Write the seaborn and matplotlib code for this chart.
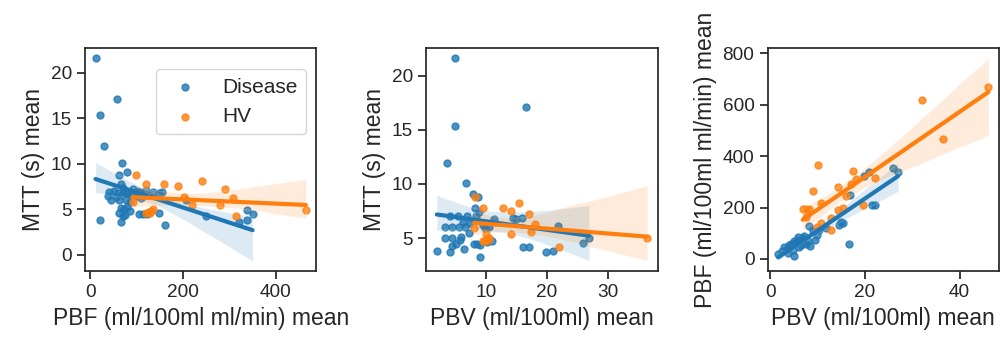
#!/usr/bin/env python3
# coding=utf-8
import matplotlib
matplotlib.use('Agg')
import matplotlib.pyplot as plt
import numpy as np
import pandas as pd
import seaborn as sns

# panel 1: PBF vs MTT
pbf_mtt_disease_x = [11, 21, 58, 30, 69, 61, 80, 20, 65, 162, 250, 320, 337, 337, 350, 207,
                     41, 45, 39, 65, 70, 60, 68, 75, 80, 62, 77, 65, 72, 80, 62, 75, 70,
                     100, 108, 120, 135, 148, 155, 104, 113, 123, 147, 100, 110, 88, 85,
                     92, 55, 50, 85, 95]
pbf_mtt_disease_y = [21.6, 15.3, 17.1, 11.9, 10.1, 8.8, 9.1, 3.8, 3.6, 3.3, 4.2, 3.6, 3.8, 4.9, 4.5, 6.0,
                     6.9, 6.0, 6.4, 7.8, 7.3, 6.8, 6.6, 6.9, 6.7, 6.0, 6.0, 5.1, 5.0, 5.2, 4.6, 4.4, 4.2,
                     7.0, 6.9, 7.1, 6.9, 6.8, 6.9, 4.5, 4.5, 4.5, 4.6, 6.4, 6.2, 6.5, 5.8,
                     7.2, 6.3, 7.0, 4.8, 6.8]
pbf_mtt_hv_x = [99, 119, 158, 188, 240, 290, 307, 201, 219, 279, 315, 465, 91, 121, 126, 130, 134, 128]
pbf_mtt_hv_y = [8.8, 7.8, 7.8, 7.5, 8.1, 7.2, 6.2, 6.3, 5.4, 5.4, 4.2, 4.9, 5.8, 4.6, 4.7, 4.8, 5.0, 4.6]

# panel 2: PBV vs MTT
pbv_mtt_disease_x = [5.0, 5.0, 16.6, 3.6, 6.8, 7.9, 8.7, 2.0, 4.2, 9.1, 16.1, 17.0, 19.9, 21.0, 25.9, 26.9, 21.8,
                     4.2, 5.5, 7.0, 8.4, 3.3, 4.5, 5.6, 6.6, 3.3, 4.5, 6.0, 4.5, 5.2, 5.8, 8.0, 8.5, 9.0,
                     8.3, 8.9, 14.4, 15.0, 15.9, 6.2, 7.5, 9.5, 10.5, 11.3, 10.2, 11.0, 9.8, 7.2, 6.5]
pbv_mtt_disease_y = [21.6, 15.3, 17.1, 11.9, 10.1, 9.1, 8.8, 3.8, 3.7, 3.3, 4.2, 4.2, 3.7, 3.8, 4.55, 5.0, 6.1,
                     7.0, 7.0, 7.0, 7.0, 6.0, 6.0, 6.0, 6.0, 5.0, 5.0, 5.1, 4.3, 4.5, 4.8, 4.5, 4.5, 4.4,
                     7.8, 7.4, 6.9, 6.8, 6.9, 6.5, 6.4, 6.2, 6.0, 6.8, 4.6, 4.7, 5.9, 5.5, 4.0]
pbv_mtt_hv_x = [8.25, 9.5, 12.9, 14.2, 15.5, 17.0, 18.0, 8.1, 9.5, 9.9, 10.3, 10.6, 10.0, 14.2, 17.4, 22.0, 36.4]
pbv_mtt_hv_y = [8.8, 7.8, 7.8, 7.5, 8.2, 7.2, 6.3, 5.9, 4.7, 4.7, 4.8, 5.0, 5.4, 5.4, 5.6, 4.2, 5.0]

# panel 3: PBV vs PBF
pbv_pbf_disease_x = [1.7, 2.5, 3.0, 3.5, 4.0, 4.5, 5.0, 5.0, 5.5, 6.0, 6.5, 7.0, 7.5, 8.0, 8.5, 4.8, 6.2,
                     3.8, 7.2, 8.3, 9.0, 10.4, 11.8, 14.6, 15.3, 15.0, 16.7, 16.9, 19.9, 20.9, 21.6,
                     22.2, 26.0, 27.0, 9.5, 10.0, 6.8, 5.8]
pbv_pbf_disease_y = [20, 30, 45, 40, 55, 60, 13, 70, 65, 75, 55, 80, 60, 70, 50, 35, 45,
                     25, 90, 130, 110, 112, 119, 132, 139, 145, 59, 250, 323, 340, 208,
                     208, 352, 339, 75, 95, 70, 85]
pbv_pbf_hv_x = [46.1, 32.1, 36.6, 17.5, 18.1, 17.1, 22.2, 16.0, 19.6, 9.0, 14.3,
                10.8, 6.9, 7.5, 8.2, 7.5, 14.3, 15.3, 12.9, 10.0, 10.8, 12.9, 10.1]
pbv_pbf_hv_y = [670, 618, 466, 343, 310, 290, 314, 244, 208, 264, 280,
                218, 194, 194, 194, 165, 191, 198, 158, 125, 140, 112, 367]

groups = ['Disease', 'HV']


def make_df(dx, dy, hx, hy):
    d = pd.DataFrame({'x': dx, 'y': dy, 'group': 'Disease'})
    h = pd.DataFrame({'x': hx, 'y': hy, 'group': 'HV'})
    return pd.concat([d, h], ignore_index=True)


def plot_panel(ax, df, xlabel, ylabel, palette):
    for i, grp in enumerate(groups):
        sub = df.loc[df['group'] == grp]
        sns.regplot(x='x', y='y', data=sub, ax=ax, color=palette[i], label=grp, seed=1,
                    scatter_kws={'s': 25}, line_kws={'linewidth': 3})
    ax.set_xlabel(xlabel)
    ax.set_ylabel(ylabel)


def main():
    sns.set_style('ticks')
    sns.set_context('notebook', rc={'xtick.labelsize': 13.7, 'ytick.labelsize': 13.7,
                                    'axes.labelsize': 16.5, 'legend.fontsize': 15})
    plt.rcParams['font.family'] = ['Liberation Sans', 'DejaVu Sans']
    palette = sns.color_palette('tab10')

    fig, axes = plt.subplots(1, 3, figsize=(10, 3.43))

    df1 = make_df(pbf_mtt_disease_x, pbf_mtt_disease_y, pbf_mtt_hv_x, pbf_mtt_hv_y)
    df2 = make_df(pbv_mtt_disease_x, pbv_mtt_disease_y, pbv_mtt_hv_x, pbv_mtt_hv_y)
    df3 = make_df(pbv_pbf_disease_x, pbv_pbf_disease_y, pbv_pbf_hv_x, pbv_pbf_hv_y)

    plot_panel(axes[0], df1, 'PBF (ml/100ml ml/min) mean', 'MTT (s) mean', palette)
    plot_panel(axes[1], df2, 'PBV (ml/100ml) mean', 'MTT (s) mean', palette)
    plot_panel(axes[2], df3, 'PBV (ml/100ml) mean', 'PBF (ml/100ml ml/min) mean', palette)

    axes[0].legend(loc='upper right', bbox_to_anchor=(1.0, 0.951))

    plt.subplots_adjust(left=0.085, right=0.999, top=0.86, bottom=0.21, wspace=0.475)
    plt.savefig('out.png', dpi=100)
    plt.close('all')


if __name__ == '__main__':
    main()
